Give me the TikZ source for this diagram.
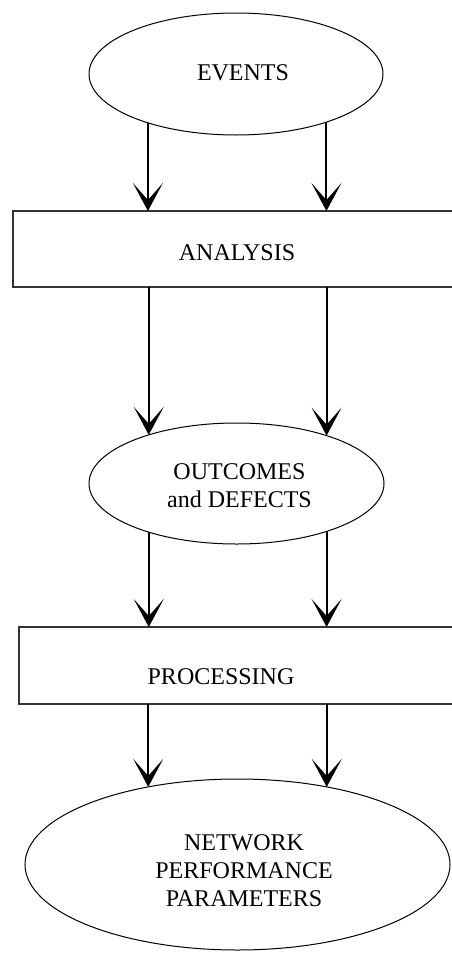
\documentclass[tikz,border=0pt]{standalone}
\usepackage{fontspec}
\setmainfont{Liberation Serif}
\usetikzlibrary{arrows.meta,shapes.geometric}
\begin{document}
\begin{tikzpicture}[x=1pt,y=-1pt,
 oval/.style={ellipse,draw=black,line width=1pt,inner sep=0pt,outer sep=0pt},
 panel/.style={rectangle,draw=black!80,line width=1.3pt,inner sep=0pt,outer sep=0pt},
 lbl/.style={inner sep=0pt,font=\fontsize{24}{28}\selectfont,align=center},
 arr/.style={line width=2pt,-{Stealth[length=28pt,width=30pt,inset=17pt]}}]
\useasboundingbox (0,0) rectangle (451,953);
\fill[white] (0,0) rectangle (451,953);
% shapes
\node[oval,minimum width=294pt,minimum height=122pt] (events) at (236,74) {};
\node[panel,minimum width=460pt,minimum height=76pt] (analysis) at (243,249) {};
\node[oval,minimum width=295pt,minimum height=121pt] (outcomes) at (236.5,483.5) {};
\node[panel,minimum width=460pt,minimum height=77pt] (processing) at (249,665.5) {};
\node[oval,minimum width=425pt,minimum height=171pt] (network) at (237.5,864.5) {};
% labels
\node[lbl] (tevents) at (243,73) {EVENTS};
\node[lbl] (tanalysis) at (237,253) {ANALYSIS};
\node[lbl] (toutcomes) at (239.5,485.5) {OUTCOMES\\and DEFECTS};
\node[lbl] (tprocessing) at (221,677) {PROCESSING};
\node[lbl] (tnetwork) at (244,871) {NETWORK\\PERFORMANCE\\PARAMETERS};
% connectors
\draw[arr] (events.209) -- (events.209 |- analysis.north);
\draw[arr] (events.332) -- (events.332 |- analysis.north);
\draw[arr] (analysis.south -| outcomes.151) -- (outcomes.151);
\draw[arr] (analysis.south -| outcomes.28) -- (outcomes.28);
\draw[arr] (outcomes.209) -- (outcomes.209 |- processing.north);
\draw[arr] (outcomes.332) -- (outcomes.332 |- processing.north);
\draw[arr] (processing.south -| network.139) -- (network.139);
\draw[arr] (processing.south -| network.41) -- (network.41);
\end{tikzpicture}
\end{document}
